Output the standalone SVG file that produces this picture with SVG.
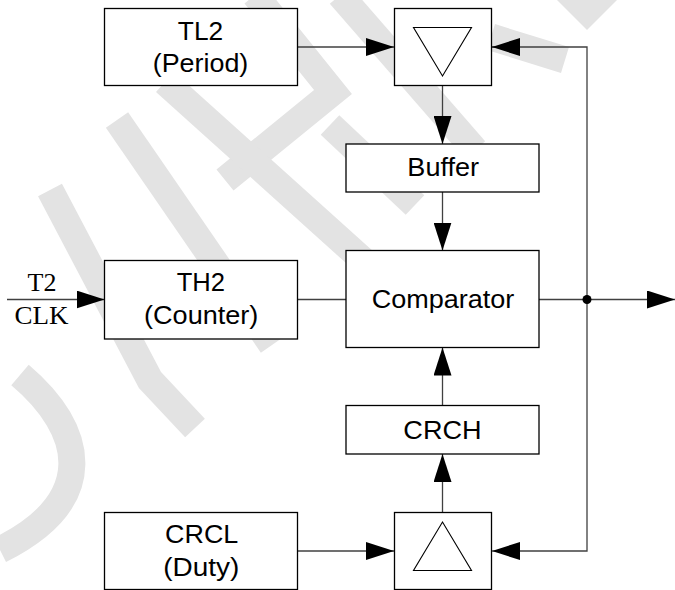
<svg xmlns="http://www.w3.org/2000/svg" width="675" height="590" viewBox="0 0 675 590">
  <style>
    .wm { fill: none; stroke: #e3e3e3; stroke-width: 27; stroke-linecap: butt; stroke-linejoin: miter; }
    .box { fill: #ffffff; stroke: #000000; stroke-width: 1.3; }
    .tri { fill: #ffffff; stroke: #000000; stroke-width: 1.1; }
    .wire { fill: none; stroke: #404040; stroke-width: 1.3; }
    .lbl { font-family: "Liberation Sans", Arial, sans-serif; font-size: 26px; fill: #000000; text-anchor: middle; }
    .ser { font-family: "Liberation Serif", "Times New Roman", serif; font-size: 26px; fill: #000000; text-anchor: middle; }
  </style>
  <defs>
    <marker id="arr" markerUnits="userSpaceOnUse" markerWidth="28" markerHeight="18" refX="28" refY="9" orient="auto" viewBox="0 0 28 18">
      <path d="M0,0 L28,9 L0,18 Z" fill="#000000"/>
    </marker>
  </defs>
  <rect width="675" height="590" fill="#ffffff"/>

  <g id="watermark">
    <path class="wm" d="M255,-5 L333,92 L225,180"/>
    <path class="wm" d="M165,82 L365,262"/>
    <path class="wm" d="M340,-5 L475,150"/>
    <path class="wm" d="M330,125 L415,205"/>
    <path class="wm" d="M491,37 L565,60"/>
    <polygon points="557,0 617,0 587,30" fill="#e3e3e3"/>
    <path class="wm" d="M117,120 L272,345"/>
    <path class="wm" d="M50,190 L150,380 L195,428"/>
    <path class="wm" d="M20,375 C85,430 100,500 0,550"/>
  </g>

  <g id="connectors">
    <path class="wire" d="M297.5,47 H394" marker-end="url(#arr)"/>
    <path class="wire" d="M587,300 V47 H492"/>
    <path class="wire" d="M520,47 H492" marker-end="url(#arr)"/>
    <path class="wire" d="M587,300 V551 H520"/>
    <path class="wire" d="M520,551 H492" marker-end="url(#arr)"/>
    <path class="wire" d="M442.5,86 V144" marker-end="url(#arr)"/>
    <path class="wire" d="M442.5,192 V250.5" marker-end="url(#arr)"/>
    <path class="wire" d="M297.5,299.5 H346"/>
    <path class="wire" d="M7,299.5 H104.5" marker-end="url(#arr)"/>
    <path class="wire" d="M539,299.5 H675" marker-end="url(#arr)"/>
    <circle cx="587" cy="299.5" r="4.5" fill="#000000"/>
    <path class="wire" d="M442.5,405.5 V347.5" marker-end="url(#arr)"/>
    <path class="wire" d="M442.5,512.5 V454" marker-end="url(#arr)"/>
    <path class="wire" d="M297.5,551 H394" marker-end="url(#arr)"/>
  </g>

  <g id="clk-label">
    <text class="ser" x="42" y="290.6">T2</text>
    <text class="ser" x="41.5" y="323.7" textLength="54" lengthAdjust="spacingAndGlyphs">CLK</text>
  </g>

  <g id="tl2">
    <rect class="box" x="104.5" y="8.5" width="193" height="77"/>
    <text class="lbl" x="200.5" y="39.5" textLength="45.3" lengthAdjust="spacingAndGlyphs">TL2</text>
    <text class="lbl" x="200.5" y="72.3" textLength="95.6" lengthAdjust="spacingAndGlyphs">(Period)</text>
  </g>

  <g id="switch-top">
    <rect class="box" x="394.5" y="8.5" width="97" height="77"/>
    <polygon class="tri" points="413.5,27.5 471.5,27.5 442.5,76"/>
  </g>

  <g id="buffer">
    <rect class="box" x="346" y="144" width="193" height="48"/>
    <text class="lbl" x="443.2" y="176" textLength="71.7" lengthAdjust="spacingAndGlyphs">Buffer</text>
  </g>

  <g id="th2">
    <rect class="box" x="104.5" y="260.5" width="193" height="78.5"/>
    <text class="lbl" x="200.8" y="290.9" textLength="48.3" lengthAdjust="spacingAndGlyphs">TH2</text>
    <text class="lbl" x="201.2" y="324.4" textLength="114.3" lengthAdjust="spacingAndGlyphs">(Counter)</text>
  </g>

  <g id="comparator">
    <rect class="box" x="346" y="250.5" width="193" height="97"/>
    <text class="lbl" x="443" y="307.8" textLength="142.6" lengthAdjust="spacingAndGlyphs">Comparator</text>
  </g>

  <g id="crch">
    <rect class="box" x="346" y="405.5" width="193" height="48.5"/>
    <text class="lbl" x="442.5" y="438.5" textLength="78.3" lengthAdjust="spacingAndGlyphs">CRCH</text>
  </g>

  <g id="crcl">
    <rect class="box" x="104.5" y="512.5" width="193" height="77"/>
    <text class="lbl" x="201.7" y="542.7" textLength="73.3" lengthAdjust="spacingAndGlyphs">CRCL</text>
    <text class="lbl" x="201.3" y="575.8" textLength="76" lengthAdjust="spacingAndGlyphs">(Duty)</text>
  </g>

  <g id="switch-bottom">
    <rect class="box" x="394.5" y="512.5" width="97" height="77"/>
    <polygon class="tri" points="413.5,570.5 471.5,570.5 442.5,522"/>
  </g>
</svg>
